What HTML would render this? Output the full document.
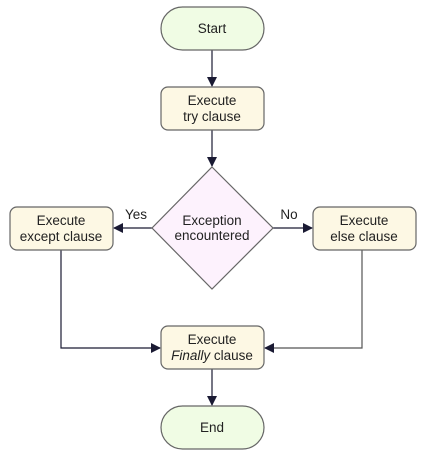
<!DOCTYPE html>
<html><head><style>body{margin:0;background:#fff}</style></head><body>
<svg width="425" height="456" xmlns="http://www.w3.org/2000/svg" font-family="Liberation Sans, sans-serif" font-size="13.5" fill="#222">
<defs><marker id="a" markerWidth="10" markerHeight="10" refX="9" refY="5" orient="auto" markerUnits="userSpaceOnUse"><path d="M0,0 L10,5 L0,10 z" fill="#1a1a33"/></marker></defs>
<g stroke="#1a1a33" stroke-width="1.2" fill="none">
<line x1="212" y1="50" x2="212" y2="86" marker-end="url(#a)"/>
<line x1="212" y1="130" x2="212" y2="166" marker-end="url(#a)"/>
<line x1="152" y1="228" x2="114" y2="228" marker-end="url(#a)"/>
<line x1="273" y1="228" x2="312" y2="228" marker-end="url(#a)"/>
<polyline points="61,250 61,348 160,348" marker-end="url(#a)"/>
<polyline points="362,250 362,348 265,348" marker-end="url(#a)" stroke="#555"/>
<line x1="212" y1="369" x2="212" y2="405" marker-end="url(#a)"/>
</g>
<g stroke="#666" stroke-width="1.2">
<rect x="161" y="7" width="103" height="43" rx="21.5" fill="#f0fce4"/>
<rect x="161" y="87" width="103" height="43" rx="7" fill="#fdf8e4"/>
<polygon points="212,167 273,228 212,289 152,228" fill="#fdf2fd"/>
<rect x="10" y="207" width="103" height="43" rx="7" fill="#fdf8e4"/>
<rect x="313" y="207" width="103" height="43" rx="7" fill="#fdf8e4"/>
<rect x="161" y="326" width="103" height="43" rx="7" fill="#fdf8e4"/>
<rect x="161" y="406" width="103" height="43" rx="21.5" fill="#f0fce4"/>
</g>
<g text-anchor="middle">
<text x="212" y="33">Start</text>
<text x="212" y="105">Execute</text><text x="212" y="121">try clause</text>
<text x="212" y="225">Exception</text><text x="212" y="240">encountered</text>
<text x="61" y="225">Execute</text><text x="61" y="241">except clause</text>
<text x="364" y="225">Execute</text><text x="364" y="241">else clause</text>
<text x="212" y="344">Execute</text><text x="212" y="360"><tspan font-style="italic">Finally</tspan> clause</text>
<text x="212" y="432">End</text>
<text x="136" y="219">Yes</text>
<text x="289" y="219">No</text>
</g>
</svg>
</body></html>
